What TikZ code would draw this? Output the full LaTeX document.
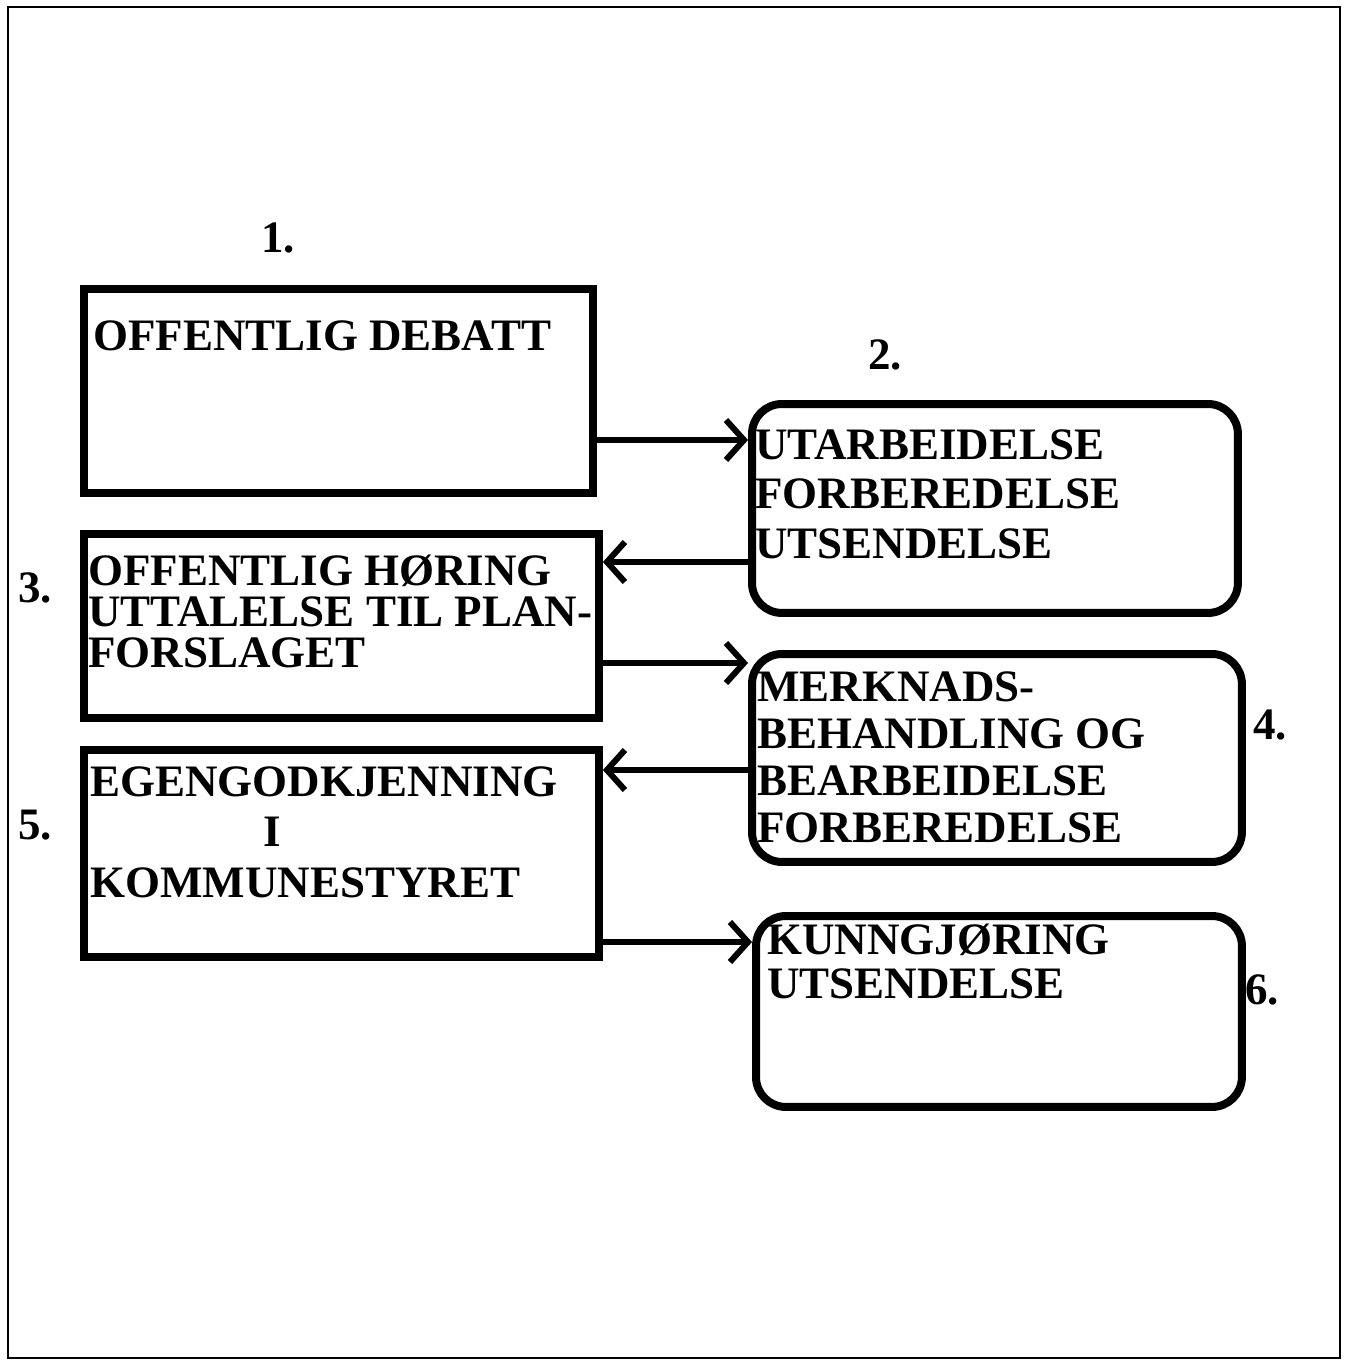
\documentclass[tikz,border=0pt]{standalone}
\usepackage{fontspec}
\setmainfont{Liberation Serif}
\usetikzlibrary{arrows.meta,positioning}

\begin{document}
\begin{tikzpicture}[x=0.02cm,y=-0.02cm,>={Straight Barb[length=0.36cm,width=0.8cm]}]
        \tikzset{block/.style={draw, rectangle, line width=0.16cm, anchor=north west, inner sep=0pt},
        rblock/.style={block, rounded corners=0.6cm},
        txt/.style={anchor=base west, align=left, inner sep=0pt, font=\fontsize{25.6}{#1}\selectfont\bfseries},
        txt/.default=28,
        num/.style={inner sep=0pt, font=\fontsize{25.6}{28}\selectfont\bfseries},
        link/.style={draw, ->, line width=0.12cm}
        }
        \useasboundingbox (0,0) rectangle (1346,1365);
        \draw[line width=0.04cm] (8,7) rectangle (1340,1358);

%% boxes
        \node[block, minimum width=10.18cm, minimum height=4.08cm] (debatt) at (80,285) {};
        \node[rblock, minimum width=9.72cm, minimum height=4.18cm] (utarb) at (748,400) {};
        \node[block, minimum width=10.3cm, minimum height=3.68cm] (horing) at (80,530) {};
        \node[rblock, minimum width=9.8cm, minimum height=4.16cm] (merkn) at (748,650) {};
        \node[block, minimum width=10.3cm, minimum height=4.14cm] (egengodk) at (80,746) {};
        \node[rblock, minimum width=9.72cm, minimum height=3.82cm] (kunngj) at (752,912) {};

%% texts (placed at the baseline of the last line)
        \node[txt] (tdebatt) at (93,350) {OFFENTLIG DEBATT};
        \node[txt=27.9] (tutarb) at (755,558) {UTARBEIDELSE\\FORBEREDELSE\\UTSENDELSE};
        \node[txt=23.3] (thoring) at (88,667) {OFFENTLIG HØRING\\UTTALELSE TIL PLAN-\\FORSLAGET};
        \node[txt=26.7] (tmerkn) at (757,842) {MERKNADS-\\BEHANDLING OG\\BEARBEIDELSE\\FORBEREDELSE};
        \node[txt=28.5] (tegengodk) at (90,897) {EGENGODKJENNING\\\hspace*{3.46cm}I\\KOMMUNESTYRET};
        \node[txt=24.5] (tkunngj) at (767,998) {KUNNGJØRING\\UTSENDELSE};

%% step numbers
        \node[num] (n1) at (278,238) {1.};
        \node[num] (n2) at (885,355) {2.};
        \node[num] (n3) at (35,588) {3.};
        \node[num] (n4) at (1270,725) {4.};
        \node[num] (n5) at (35,825) {5.};
        \node[num] (n6) at (1262,990) {6.};

%% paths
        \path[link] (debatt.east |- 0,440) -- (utarb.west |- 0,440);
        \path[link] (utarb.west |- 0,562) -- (horing.east |- 0,562);
        \path[link] (horing.east |- 0,663) -- (merkn.west |- 0,663);
        \path[link] (merkn.west |- 0,770) -- (egengodk.east |- 0,770);
        \path[link] (egengodk.east |- 0,942) -- (kunngj.west |- 0,942);
\end{tikzpicture}
\end{document}
